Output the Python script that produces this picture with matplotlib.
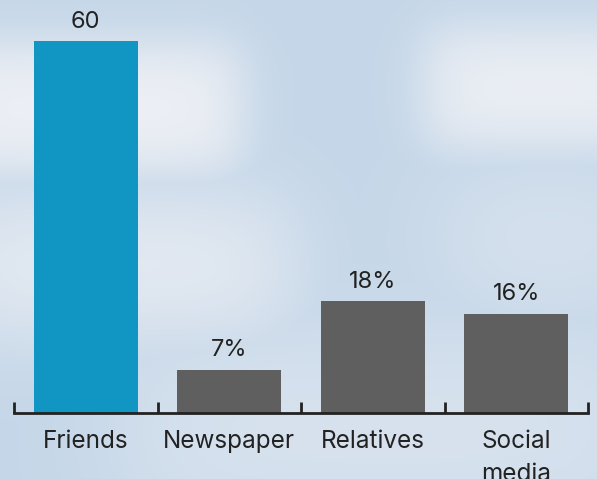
import matplotlib
matplotlib.use("Agg")
import matplotlib.pyplot as plt
import numpy as np

categories = ["Friends", "Newspaper", "Relatives", "Social\nmedia"]
values = [60, 7, 18, 16]
value_labels = ["60", "7%", "18%", "16%"]
bar_colors = ["#1196c4", "#5f5f5f", "#5f5f5f", "#5f5f5f"]

W, H = 597, 479
plt.rcParams["font.family"] = ["Inter", "DejaVu Sans"]


def soft_box(xx, yy, x0, x1, y0, y1, s):
    sig = lambda t: 1 / (1 + np.exp(-t))
    return sig((xx - x0) / s) * sig((x1 - xx) / s) * sig((yy - y0) / s) * sig((y1 - yy) / s)


def sky_background():
    yy, xx = np.mgrid[0:H, 0:W].astype(float)
    sky = np.array([0.77, 0.84, 0.91])
    cloud = np.array([0.93, 0.94, 0.96])
    mask = np.zeros((H, W))
    for x0, x1, y0, y1, s, k in [
        (-60, 240, 45, 170, 16, 1.0),
        (425, 660, 30, 146, 16, 0.95),
        (-60, 290, 200, 330, 28, 0.85),
        (440, 660, 175, 300, 35, 0.55),
        (120, 660, 340, 520, 40, 0.55),
    ]:
        mask = np.maximum(mask, k * soft_box(xx, yy, x0, x1, y0, y1, s))
    return sky[None, None, :] * (1 - mask[..., None]) + cloud[None, None, :] * mask[..., None]


fig = plt.figure(figsize=(W / 100, H / 100), dpi=100)

bg = fig.add_axes([0, 0, 1, 1])
bg.imshow(sky_background(), extent=(0, W, H, 0), aspect="auto")
bg.axis("off")

ax = fig.add_axes([14 / W, 66 / H, 574 / W, 413 / H])
ax.patch.set_alpha(0)
x = np.arange(len(categories))
bars = ax.bar(x, values, width=0.725, color=bar_colors, zorder=2)
ax.bar_label(bars, labels=value_labels, padding=6, fontsize=17, color="#222222")

ax.set_xlim(-0.5, len(categories) - 0.5)
ax.set_ylim(0, 66.6)
ax.set_yticks([])
ax.set_xticks(x)
ax.set_xticklabels(categories, fontsize=17.5, color="#222222", linespacing=1.6)
ax.tick_params(axis="x", length=0, pad=12)
# boundary ticks sit between categories and point upward
ax.set_xticks(np.arange(-0.5, len(categories)), minor=True)
ax.tick_params(axis="x", which="minor", direction="in", length=8, width=2, color="#222222")

for side in ["top", "right", "left"]:
    ax.spines[side].set_visible(False)
ax.spines["bottom"].set_linewidth(2)
ax.spines["bottom"].set_color("#222222")

fig.savefig("out.png", dpi=100)
